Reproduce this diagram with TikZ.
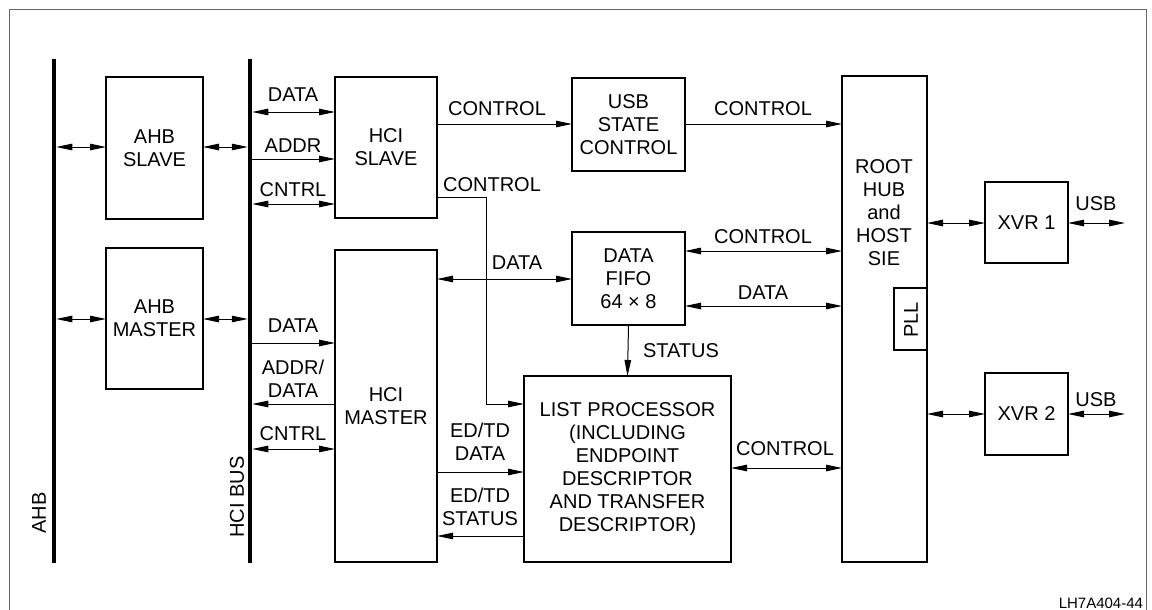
\documentclass[tikz,border=0pt]{standalone}
\usepackage{fontspec}
\setmainfont{Liberation Sans}
\usetikzlibrary{arrows.meta}
\begin{document}
\begin{tikzpicture}[x=1pt,y=-1pt,
  every node/.style={font=\fontsize{20}{23}\selectfont, inner sep=0pt, outer sep=0pt},
  box/.style={draw, line width=2.2pt, align=center},
  bus/.style={fill=black, minimum width=4.5pt, minimum height=504pt},
  lbl/.style={align=center},
  conn/.style={line width=1pt},
  tip/.style={-{Triangle[length=16pt,width=6.5pt]}},
  dtip/.style={{Triangle[length=16pt,width=6.5pt]}-{Triangle[length=16pt,width=6.5pt]}}
]
\useasboundingbox (0,0) rectangle (1152,610);
% frame
\draw[gray!80!black, line width=1pt] (9,612) -- (9,10) -- (1146,10) -- (1146,612);

% buses
\node[bus] (ahb) at (54,311) {};
\node[bus] (hcibus) at (250,311) {};
\node[rotate=90] (ahblbl) at (39,513) {AHB};
\node[rotate=90] (hcilbl) at (237,497) {HCI BUS};

% boxes
\node[box, minimum width=97pt, minimum height=142pt] (ahbs) at (154.5,148) {AHB\\SLAVE};
\node[box, minimum width=97pt, minimum height=141pt] (ahbm) at (154.5,318.5) {AHB\\MASTER};
\node[box, minimum width=102pt, minimum height=141pt] (hcis) at (386,147.5) {HCI\\SLAVE};
\node[box, minimum width=102pt, minimum height=312pt] (hcim) at (386,406) {HCI\\MASTER};
\node[box, minimum width=113pt, minimum height=93pt] (usb) at (628.5,124.5) {USB\\STATE\\CONTROL};
\node[box, minimum width=113pt, minimum height=93pt] (fifo) at (628.5,278.5) {DATA\\FIFO\\64 × 8};
\node[box, minimum width=207pt, minimum height=186pt] (lp) at (627.5,469) {LIST PROCESSOR\\(INCLUDING\\ENDPOINT\\DESCRIPTOR\\AND TRANSFER\\DESCRIPTOR)};
\node[box, minimum width=85pt, minimum height=486pt] (root) at (884.5,319) {};
\node[lbl] (roottxt) at (884,213) {ROOT\\HUB\\and\\HOST\\SIE};
\node[box, minimum width=33pt, minimum height=62pt] (pll) at (910.5,319) {};
\node[rotate=90] (plltxt) at (911,320) {PLL};
\node[box, minimum width=83pt, minimum height=81pt] (xvr1) at (1026.5,222.5) {XVR 1};
\node[box, minimum width=83pt, minimum height=82pt] (xvr2) at (1026.5,414) {XVR 2};
\coordinate (usb1) at (1125,223);
\coordinate (usb2) at (1125,414);

% AHB connections
\draw[conn,dtip] (ahb.east |- 0,147) -- (ahbs.west |- 0,147);
\draw[conn,dtip] (ahbs.east |- 0,147) -- (hcibus.west |- 0,147);
\draw[conn,dtip] (ahb.east |- 0,319) -- (ahbm.west |- 0,319);
\draw[conn,dtip] (ahbm.east |- 0,319) -- (hcibus.west |- 0,319);

% HCI bus <-> HCI slave
\draw[conn,dtip] (hcibus.east |- 0,112) -- (hcis.west |- 0,112);
\node[lbl] (l1) at (293,95) {DATA};
\draw[conn,tip] (hcibus.east |- 0,159) -- (hcis.west |- 0,159);
\node[lbl] (l2) at (293,146) {ADDR};
\draw[conn,dtip] (hcibus.east |- 0,204) -- (hcis.west |- 0,204);
\node[lbl] (l3) at (293,190) {CNTRL};

% HCI bus <-> HCI master
\draw[conn,tip] (hcibus.east |- 0,343) -- (hcim.west |- 0,343);
\node[lbl] (l4) at (293,326) {DATA};
\draw[conn,tip] (hcim.west |- 0,404) -- (hcibus.east |- 0,404);
\node[lbl] (l5) at (293,379) {ADDR/\\DATA};
\draw[conn,dtip] (hcibus.east |- 0,449) -- (hcim.west |- 0,449);
\node[lbl] (l6) at (293,434) {CNTRL};

% control paths
\draw[conn,tip] (hcis.east |- 0,124) -- (usb.west |- 0,124);
\node[lbl] (l7) at (497,109) {CONTROL};
\draw[conn,tip] (usb.east |- 0,124) -- (root.west |- 0,124);
\node[lbl] (l8) at (763,109) {CONTROL};
\draw[conn,tip] (hcis.east |- 0,197) -- (486,197) -- (486,404) -- (lp.west |- 0,404);
\node[lbl] (l9) at (492,185) {CONTROL};

% data fifo
\draw[conn,dtip] (hcim.east |- 0,279) -- (fifo.west |- 0,279);
\node[lbl] (l10) at (517,263) {DATA};
\draw[conn,dtip] (fifo.east |- 0,251) -- (root.west |- 0,251);
\node[lbl] (l11) at (763,237) {CONTROL};
\draw[conn,dtip] (fifo.east |- 0,306) -- (root.west |- 0,306);
\node[lbl] (l12) at (763,293) {DATA};
\draw[conn,tip] (fifo.south) -- (lp.north);
\node[lbl] (l13) at (681,351) {STATUS};

% list processor
\draw[conn,tip] (hcim.east |- 0,472) -- (lp.west |- 0,472);
\node[lbl] (l14) at (480,442) {ED/TD\\DATA};
\draw[conn,tip] (lp.west |- 0,536) -- (hcim.east |- 0,536);
\node[lbl] (l15) at (480,507) {ED/TD\\STATUS};
\draw[conn,dtip] (lp.east |- 0,468) -- (root.west |- 0,468);
\node[lbl] (l16) at (785,449) {CONTROL};

% transceivers
\draw[conn,dtip] (root.east |- 0,223) -- (xvr1.west |- 0,223);
\draw[conn,dtip] (xvr1.east |- 0,223) -- (usb1);
\node[lbl] (l17) at (1096,204) {USB};
\draw[conn,dtip] (root.east |- 0,414) -- (xvr2.west |- 0,414);
\draw[conn,dtip] (xvr2.east |- 0,414) -- (usb2);
\node[lbl] (l18) at (1096,400) {USB};

\node[anchor=east, font=\fontsize{15}{17}\selectfont] (fig) at (1143,603) {LH7A404-44};
\end{tikzpicture}
\end{document}
